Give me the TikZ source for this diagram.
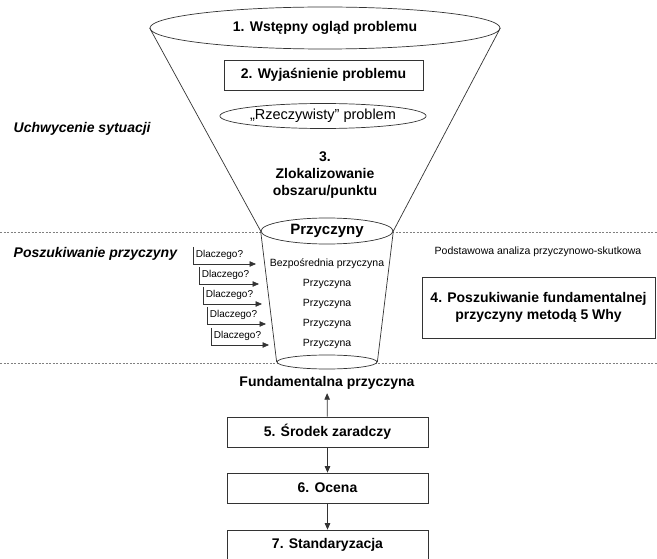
\documentclass[tikz,border=0pt]{standalone}
\usepackage{fontspec}
\setmainfont{Liberation Sans}
\usetikzlibrary{shapes.geometric,arrows.meta}
\begin{document}
\begin{tikzpicture}[
					x=1pt, y=-1pt,
					line width=0.7pt,
					draw=black!80,
					big/.style={font=\bfseries\fontsize{14}{17}\selectfont},
					small/.style={font=\fontsize{10.5}{12}\selectfont},
					side/.style={font=\bfseries\itshape\fontsize{14}{16}\selectfont, anchor=west},
					box/.style={draw, big, minimum width=201pt, minimum height=30pt},
					oval/.style={draw, ellipse, inner sep=0pt},
					why/.style={font=\fontsize{10}{12}\selectfont, anchor=north west, inner sep=2.5pt},
					arr/.style={-{Triangle[length=6.5pt,width=5.5pt]}},
					sep/.style={draw=gray, dash pattern=on 2pt off 1.5pt, line width=0.6pt}
				]
				\useasboundingbox (0,0) rectangle (657,559);
				\draw[sep] (0,232) -- (657,232);
				\draw[sep] (0,363) -- (657,363);
				\node[oval, big, minimum width=350pt, minimum height=42pt] (top) at (325,28) {1. Wstępny ogląd problemu};
				\node[box, minimum width=199pt] (b2) at (323.5,75) {2. Wyjaśnienie problemu};
				\node[oval, font=\fontsize{14.5}{16}\selectfont, minimum width=200pt, minimum height=25pt] (real) at (323,116) {„Rzeczywisty'' problem};
				\node[big, align=center] (b3) at (325,175) {3.\\Zlokalizowanie\\obszaru/punktu};
				\node[side] (cap) at (10,129) {Uchwycenie sytuacji};
				\node[side] (srch) at (10,254) {Poszukiwanie przyczyny};
				\node[oval, fill=white, font=\bfseries\fontsize{15}{17}\selectfont, minimum width=132pt, minimum height=26pt] (cup) at (327,231) {Przyczyny};
				\node[oval, fill=white, minimum width=100pt, minimum height=14pt] (bot) at (327,362) {};
				\draw (top.west) -- (cup.west);
				\draw (top.east) -- (cup.east);
				\draw (cup.west) -- (bot.west);
				\draw (cup.east) -- (bot.east);
				\node[small] (c1) at (327,264) {Bezpośrednia przyczyna};
				\node[small] (c2) at (327,284) {Przyczyna};
				\node[small] (c3) at (327,304) {Przyczyna};
				\node[small] (c4) at (327,324) {Przyczyna};
				\node[small] (c5) at (327,344) {Przyczyna};
				\node[why] (d1) at (193,247) {Dlaczego?};
				\node[why] (d2) at (199,267) {Dlaczego?};
				\node[why] (d3) at (203,287) {Dlaczego?};
				\node[why] (d4) at (207,307) {Dlaczego?};
				\node[why] (d5) at (211,328) {Dlaczego?};
				\coordinate (t1) at (256,264);
				\coordinate (t2) at (259,284);
				\coordinate (t3) at (262,304);
				\coordinate (t4) at (266,324);
				\coordinate (t5) at (269,345);
				\draw[arr] (d1.north west) |- (t1);
				\draw[arr] (d2.north west) |- (t2);
				\draw[arr] (d3.north west) |- (t3);
				\draw[arr] (d4.north west) |- (t4);
				\draw[arr] (d5.north west) |- (t5);
				\node[small] (note) at (538,252) {Podstawowa analiza przyczynowo-skutkowa};
				\node[box, align=center, minimum width=233pt, minimum height=61pt] (b4) at (538.5,307.5) {4. Poszukiwanie fundamentalnej\\przyczyny metodą 5 Why};
				\node[big] (fund) at (327,383) {Fundamentalna przyczyna};
				\node[box] (b5) at (327.5,432) {5. Środek zaradczy};
				\node[box] (b6) at (327.5,488) {6. Ocena};
				\node[box] (b7) at (327.5,545) {7. Standaryzacja};
				\draw[arr] (b5) -- (fund);
				\draw[arr] (b5) -- (b6);
				\draw[arr] (b6) -- (b7);
			\end{tikzpicture}
\end{document}
